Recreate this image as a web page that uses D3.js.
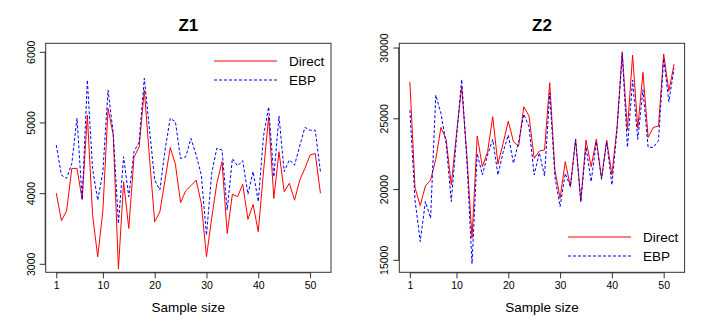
<!DOCTYPE html>
<html>
<head>
<meta charset="utf-8">
<script src="https://cdnjs.cloudflare.com/ajax/libs/d3/7.8.5/d3.min.js"></script>
<style>
  body { margin: 0; background: #fff; }
  text { font-family: 'Liberation Sans', Arial, Helvetica, sans-serif; fill: #000; }
</style>
</head>
<body>
<svg width="708" height="327"></svg>
<script>
// Values, one per sample (x = 1..52)
const z1Direct = [4000, 3610, 3750, 4350, 4350, 3910, 5105, 3700, 3100, 3750,
  5200, 4820, 2925, 4160, 3500, 4505, 4655, 5460, 4500, 3595,
  3735, 4185, 4645, 4410, 3865, 4035, 4105, 4185, 3855, 3100,
  3645, 4140, 4445, 3430, 3985, 3950, 4125, 3630, 3840, 3455,
  4300, 5080, 3925, 4585, 4020, 4140, 3900, 4185, 4350, 4540,
  4560, 4000]
const z1EBP = [4680, 4255, 4210, 4420, 5060, 3910, 5600, 4350, 3900, 4300,
  5460, 4845, 3570, 4515, 3950, 4585, 4725, 5625, 4900, 4185,
  4045, 4610, 5060, 5010, 4490, 4515, 4775, 4540, 4255, 3405,
  4280, 4635, 4610, 3760, 4490, 4385, 4460, 3985, 4305, 3880,
  4800, 5220, 4230, 5090, 4305, 4470, 4395, 4665, 4930, 4890,
  4890, 4305]
const z2Direct = [27580, 20100, 18830, 20220, 20640, 22100, 24360, 23510, 20290, 23900,
  27230, 22400, 16530, 23750, 21580, 22640, 25110, 21770, 23230, 24800,
  23350, 23040, 25815, 25160, 22170, 22690, 22760, 27510, 21350, 19350,
  21940, 20170, 23530, 19115, 23460, 21580, 23530, 20760, 23460, 21000,
  24400, 29700, 24170, 29460, 24290, 28240, 23650, 24360, 24450, 29550,
  26920, 28820]
const z2EBP = [25580, 19200, 16290, 19120, 17940, 26640, 25350, 23230, 19120, 23600,
  27740, 22050, 14720, 22520, 21000, 22410, 23510, 21000, 22600, 23820,
  21820, 23350, 25300, 24400, 21000, 22570, 20920, 26790, 20880, 18760,
  21110, 20170, 23510, 19115, 22990, 20525, 23350, 20690, 23350, 20290,
  24200, 29550, 22950, 27700, 23510, 27015, 22950, 22950, 23420, 29220,
  26170, 28520]

const xTicks = [1, 10, 20, 30, 40, 50]
const z1Ticks = [3000, 4000, 5000, 6000]
const z2Ticks = [15000, 20000, 25000, 30000]
const z1Limits = [3000, 6000]
const seriesNames = ['Direct', 'EBP']

const svg = d3.select('svg')

// Same box for both plots, only the left edge moves
const boxTop = 43.3
const boxBottom = 272.3
const boxWidth = 285.3

// R pads every axis range by 4 percent
const pad = ([lo, hi]) => [lo - (hi - lo) * 0.04, hi + (hi - lo) * 0.04]

const drawPanel = (left, title, direct, ebp, yLimits, yTicks, legendPos) => {
  const right = left + boxWidth
  const n = direct.length

  const x = d3.scaleLinear()
    .domain(pad([1, n]))
    .range([left, right])
  const y = d3.scaleLinear()
    .domain(pad(yLimits))
    .range([boxBottom, boxTop])

  const g = svg.append('g')

  // Title
  g.append('text')
    .attr('x', (left + right) / 2)
    .attr('y', 31)
    .attr('text-anchor', 'middle')
    .style('font-size', '17px')
    .style('font-weight', 'bold')
    .text(title)

  // x axis, pushed down under the box like R does
  const xAxis = g.append('g')
    .attr('transform', `translate(0, ${boxBottom})`)
    .call(d3.axisBottom(x).tickValues(xTicks).tickSize(6).tickSizeOuter(0).tickPadding(3))
  xAxis.select('.domain')
    .attr('d', `M${x(xTicks[0])},0.5H${x(xTicks[xTicks.length - 1])}`)
  xAxis.selectAll('text').style('font-size', '10.5px')

  // y axis with labels turned on their side
  const yAxis = g.append('g')
    .attr('transform', `translate(${left}, 0)`)
    .call(d3.axisLeft(y).tickValues(yTicks).tickSize(6).tickSizeOuter(0).tickFormat(d3.format('d')))
  yAxis.select('.domain')
    .attr('d', `M-0.5,${y(yTicks[0])}V${y(yTicks[yTicks.length - 1])}`)
  yAxis.selectAll('.tick text')
    .attr('x', null)
    .attr('dy', null)
    .attr('transform', 'translate(-11, 0) rotate(-90)')
    .attr('text-anchor', 'middle')
    .style('font-size', '10.5px')

  g.selectAll('.tick line, .domain').attr('stroke', '#333')

  // Box round the plot
  g.append('rect')
    .attr('x', left)
    .attr('y', boxTop)
    .attr('width', boxWidth)
    .attr('height', boxBottom - boxTop)
    .attr('fill', 'none')
    .attr('stroke', '#333')

  // x label
  g.append('text')
    .attr('x', (left + right) / 2)
    .attr('y', 312)
    .attr('text-anchor', 'middle')
    .style('font-size', '13.5px')
    .text('Sample size')

  const line = d3.line()
    .x((d, i) => x(i + 1))
    .y(d => y(d))

  g.append('path')
    .datum(direct)
    .attr('d', line)
    .attr('fill', 'none')
    .attr('stroke', '#ff0000')
    .attr('stroke-width', 1)

  g.append('path')
    .datum(ebp)
    .attr('d', line)
    .attr('fill', 'none')
    .attr('stroke', '#0000ff')
    .attr('stroke-width', 1)
    .attr('stroke-dasharray', '3,2')

  // Legend, no frame
  const legend = g.append('g')
    .attr('transform', `translate(${legendPos[0]}, ${legendPos[1]})`)
  seriesNames.forEach((name, i) => {
    legend.append('line')
      .attr('x1', 0).attr('x2', 63)
      .attr('y1', i * 19).attr('y2', i * 19)
      .attr('stroke', i === 0 ? '#ff0000' : '#0000ff')
      .attr('stroke-dasharray', i === 0 ? null : '3,2')
    legend.append('text')
      .attr('x', 75)
      .attr('y', i * 19)
      .attr('dy', '0.35em')
      .style('font-size', '13.5px')
      .text(name)
  })
}

drawPanel(45.7, 'Z1', z1Direct, z1EBP, z1Limits, z1Ticks, [214, 61])
drawPanel(399.3, 'Z2', z2Direct, z2EBP,
  d3.extent(z2Direct.concat(z2EBP)), z2Ticks, [568, 237])
</script>
</body>
</html>
